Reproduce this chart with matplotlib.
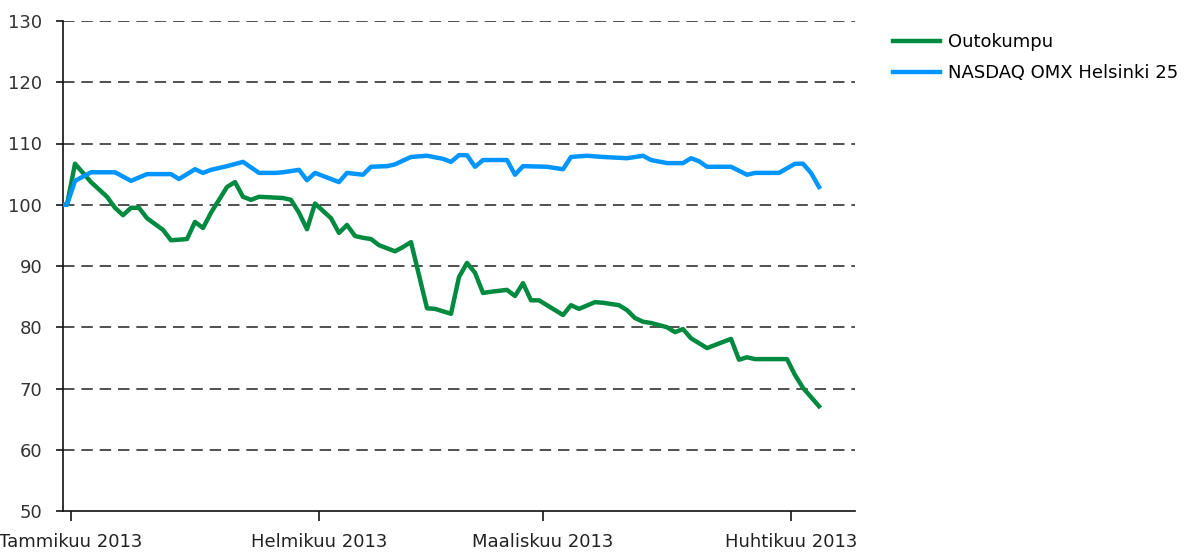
import matplotlib
matplotlib.use("Agg")
import matplotlib.pyplot as plt
import pandas as pd

# Outokumpu vs NASDAQ OMX Helsinki 25, indexed to 100
out_dates = ["2012-12-30", "2012-12-31", "2013-01-01", "2013-01-03", "2013-01-05",
             "2013-01-06", "2013-01-07", "2013-01-08", "2013-01-09", "2013-01-10",
             "2013-01-12", "2013-01-13", "2013-01-15", "2013-01-16", "2013-01-17",
             "2013-01-18", "2013-01-20", "2013-01-21", "2013-01-22", "2013-01-23",
             "2013-01-24", "2013-01-27", "2013-01-28", "2013-01-29", "2013-01-30",
             "2013-01-31", "2013-02-02", "2013-02-03", "2013-02-04", "2013-02-05",
             "2013-02-06", "2013-02-07", "2013-02-08", "2013-02-10", "2013-02-11",
             "2013-02-12", "2013-02-14", "2013-02-15", "2013-02-17", "2013-02-18",
             "2013-02-19", "2013-02-20", "2013-02-21", "2013-02-22", "2013-02-24",
             "2013-02-25", "2013-02-26", "2013-02-27", "2013-02-28", "2013-03-01",
             "2013-03-03", "2013-03-04", "2013-03-05", "2013-03-07", "2013-03-08",
             "2013-03-10", "2013-03-11", "2013-03-12", "2013-03-13", "2013-03-14",
             "2013-03-16", "2013-03-17", "2013-03-18", "2013-03-19", "2013-03-21",
             "2013-03-24", "2013-03-25", "2013-03-26", "2013-03-27", "2013-03-31",
             "2013-04-01", "2013-04-02", "2013-04-04"]
out_vals = [100.0, 100.0, 106.7, 103.7, 101.3,
            99.5, 98.3, 99.5, 99.5, 97.8,
            95.9, 94.2, 94.4, 97.2, 96.2,
            98.7, 102.9, 103.7, 101.3, 100.8,
            101.3, 101.1, 100.8, 98.7, 96.0,
            100.2, 97.8, 95.4, 96.7, 94.9,
            94.6, 94.4, 93.4, 92.4, 93.1,
            93.9, 83.1, 83.0, 82.2, 88.2,
            90.5, 88.9, 85.6, 85.8, 86.1,
            85.1, 87.2, 84.4, 84.4, 83.6,
            82.0, 83.6, 83.0, 84.1, 84.0,
            83.6, 82.8, 81.5, 80.9, 80.7,
            80.0, 79.2, 79.7, 78.2, 76.6,
            78.1, 74.7, 75.1, 74.8, 74.8,
            72.2, 70.1, 67.1]

omx_dates = ["2012-12-30", "2012-12-31", "2013-01-01", "2013-01-03", "2013-01-06",
             "2013-01-08", "2013-01-10", "2013-01-13", "2013-01-14", "2013-01-16",
             "2013-01-17", "2013-01-18", "2013-01-20", "2013-01-22", "2013-01-24",
             "2013-01-26", "2013-01-27", "2013-01-29", "2013-01-30", "2013-01-31",
             "2013-02-03", "2013-02-04", "2013-02-06", "2013-02-07", "2013-02-09",
             "2013-02-10", "2013-02-12", "2013-02-14", "2013-02-16", "2013-02-17",
             "2013-02-18", "2013-02-19", "2013-02-20", "2013-02-21", "2013-02-24",
             "2013-02-25", "2013-02-26", "2013-03-01", "2013-03-03", "2013-03-04",
             "2013-03-06", "2013-03-08", "2013-03-11", "2013-03-13", "2013-03-14",
             "2013-03-16", "2013-03-18", "2013-03-19", "2013-03-20", "2013-03-21",
             "2013-03-24", "2013-03-26", "2013-03-27", "2013-03-30", "2013-04-01",
             "2013-04-02", "2013-04-03", "2013-04-04"]
omx_vals = [100.0, 100.0, 103.9, 105.3, 105.3,
            103.9, 105.0, 105.0, 104.2, 105.8,
            105.2, 105.7, 106.3, 107.0, 105.2,
            105.2, 105.3, 105.7, 104.0, 105.2,
            103.7, 105.2, 104.9, 106.2, 106.3,
            106.6, 107.8, 108.0, 107.5, 107.0,
            108.1, 108.1, 106.2, 107.3, 107.3,
            104.9, 106.3, 106.2, 105.8, 107.8,
            108.0, 107.8, 107.6, 108.0, 107.3,
            106.8, 106.8, 107.6, 107.1, 106.2,
            106.2, 104.9, 105.2, 105.2, 106.7,
            106.7, 105.2, 102.9]

month_ticks = ["2013-01-01", "2013-02-01", "2013-03-01", "2013-04-01"]
month_labels = ["Tammikuu 2013", "Helmikuu 2013", "Maaliskuu 2013", "Huhtikuu 2013"]
y_ticks = [50, 60, 70, 80, 90, 100, 110, 120, 130]

GREEN = "#008A40"
BLUE = "#0095FF"

plt.rcParams["font.family"] = ["DejaVu Sans"]
plt.rcParams["font.size"] = 13

fig = plt.figure(figsize=(11.87, 5.52), dpi=100)
ax = fig.add_axes([63 / 1187, 1 - 511 / 552, (855 - 63) / 1187, (511 - 21) / 552])

# points sit in the middle of each day
half_day = pd.Timedelta(hours=12)
ax.plot(pd.to_datetime(out_dates) + half_day, out_vals, color=GREEN, lw=3.2,
        label="Outokumpu", zorder=3)
ax.plot(pd.to_datetime(omx_dates) + half_day, omx_vals, color=BLUE, lw=3.2,
        label="NASDAQ OMX Helsinki 25", zorder=3)

ax.set_ylim(50, 130)
ax.set_yticks(y_ticks)
ax.set_xlim(pd.Timestamp("2012-12-31"), pd.Timestamp("2013-04-09"))
ax.set_xticks(pd.to_datetime(month_ticks))
ax.set_xticklabels(month_labels)

for v in y_ticks[1:]:
    ax.axhline(v, color="#222222", lw=1.1, linestyle=(0, (7.5, 4.5)), zorder=1)

for side in ["top", "right"]:
    ax.spines[side].set_visible(False)
for side in ["left", "bottom"]:
    ax.spines[side].set_linewidth(1.2)
    ax.spines[side].set_color("#111111")

ax.tick_params(axis="y", direction="out", length=5, width=1.1, pad=10,
               labelsize=13, labelcolor="#333333")
ax.tick_params(axis="x", direction="out", length=7, width=1.1, pad=9,
               labelsize=13, labelcolor="#222222")

ax.legend(loc="upper left", bbox_to_anchor=(886 / 1187, 1 - 26 / 552),
          bbox_transform=fig.transFigure, frameon=False, handlelength=2.6,
          handletextpad=0.45, labelspacing=0.72, borderaxespad=0, fontsize=13)

fig.savefig("out.png", dpi=100)
